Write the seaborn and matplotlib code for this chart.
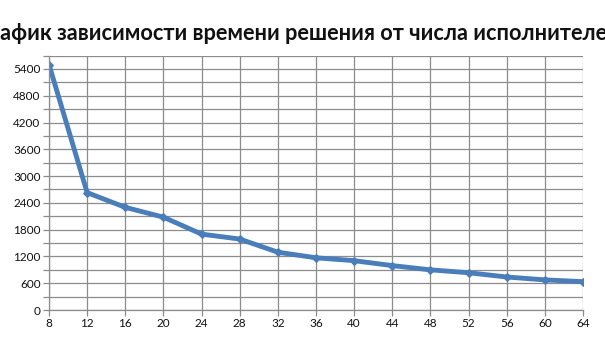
import matplotlib
matplotlib.use("Agg")
import matplotlib.pyplot as plt
import seaborn as sns
import pandas as pd
import numpy as np

executors = [8, 12, 16, 20, 24, 28, 32, 36, 40, 44, 48, 52, 56, 60, 64]
times = [5500, 2630, 2300, 2080, 1700, 1590, 1295, 1170, 1105, 995, 900, 835, 740, 675, 635]
title = "График зависимости времени решения от числа исполнителей"
x_ticks = list(range(8, 65, 4))
y_ticks = list(range(0, 5401, 600))

sns.set_theme(style="white")
plt.rcParams['font.family'] = ['Lato', 'DejaVu Sans']

df = pd.DataFrame({"x": executors, "y": times})
fig = plt.figure(figsize=(6.05, 3.4), dpi=100)
ax = fig.add_axes([0.081, 0.0882, 0.8826, 0.7483])
sns.lineplot(data=df, x="x", y="y", ax=ax, color="#4a7ebb", linewidth=3.5,
             marker="D", markersize=4, markeredgecolor="#4a7ebb")
ax.set_xlim(8, 64)
ax.set_ylim(0, 5700)
ax.set_xticks(x_ticks)
ax.set_yticks(list(range(0, 5701, 300)), minor=False)
ax.set_yticklabels([str(v) if v % 600 == 0 and v <= 5400 else "" for v in range(0, 5701, 300)])
ax.grid(True, color="#8c8c8c", linewidth=0.9)
ax.tick_params(axis="both", length=4, width=0.9, color="#8c8c8c", labelsize=8.5, pad=2,
               direction="out", left=True, bottom=True, labelcolor="#111111")
for s in ["left", "bottom"]:
    ax.spines[s].set_color("#8c8c8c")
    ax.spines[s].set_linewidth(0.9)
for s in ["top", "right"]:
    ax.spines[s].set_visible(False)
ax.set_xlabel("")
ax.set_ylabel("")
fig.text(0.4925, 0.902, title, ha="center", va="center", fontsize=15.7, fontweight="bold", color="#111111")
fig.savefig("out.png", dpi=100)
